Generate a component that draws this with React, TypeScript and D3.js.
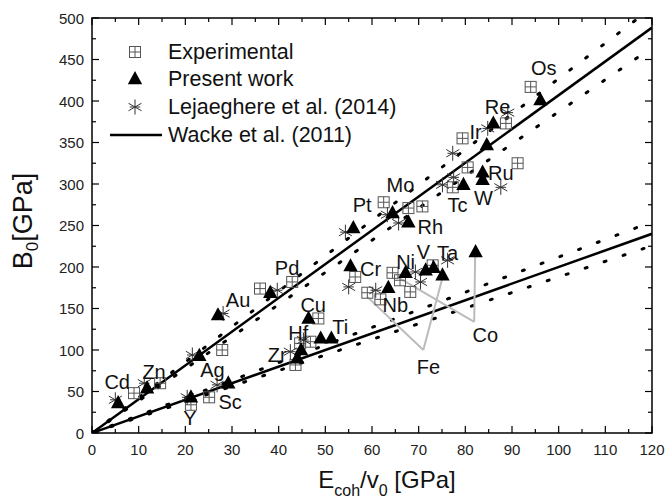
import React from 'react';
import * as d3 from 'd3';

// Experimental [E_coh/v0, B0]
const experimental: [number, number][] = [
  [9, 48], [14.6, 60], [21.2, 34], [25.1, 43], [27.9, 100], [36, 174], [42.9, 182],
  [43.6, 82], [44.6, 108], [46.8, 110], [48.5, 138], [56.4, 188], [59, 169], [61.8, 161],
  [64.4, 193], [66, 184], [68.2, 170], [73, 202], [62.5, 278], [67.8, 271], [70.8, 273],
  [77.3, 296], [80.5, 320], [91.2, 325], [79.4, 355], [88.7, 373], [94, 417],
];

// Present work
const present: [number, number][] = [
  [5.6, 36], [11.8, 54], [21.2, 43], [23, 93], [27, 142], [29.2, 60], [38.2, 169],
  [44, 90], [44.8, 100], [46.4, 138], [49, 114], [51.3, 114], [55.4, 201], [56, 247],
  [63.5, 175], [64.4, 265], [67.2, 193], [67.8, 254], [71.5, 196], [73.2, 199],
  [75.1, 190], [79.6, 299], [82.2, 218], [83.7, 305], [83.7, 314], [84.6, 347],
  [86, 373], [96.1, 401],
];

// Lejaeghere et al. (2014)
const lejaeghere: [number, number][] = [
  [5, 40], [11.2, 60], [20.4, 43], [21.5, 94], [26.8, 58], [28.1, 144], [39.7, 172],
  [42.5, 98], [45.3, 112], [55, 176], [60.8, 172], [69.3, 194], [70.4, 182], [76.2, 208],
  [54.3, 242], [63.3, 263], [65.7, 253], [75.1, 299], [77.5, 308], [77.3, 337],
  [84.8, 367], [89.1, 386], [87.6, 296],
];

// Wacke et al. (2011) fits: slope, lower band, upper band
const wackeFits = [
  { slope: 4.07, lo: 3.87, hi: 4.27 },
  { slope: 2.0, lo: 1.88, hi: 2.12 },
];

const elementLabels: { name: string; x: number; y: number }[] = [
  { name: 'Cd', x: 5.4, y: 61 }, { name: 'Zn', x: 13.3, y: 73 }, { name: 'Ag', x: 25.8, y: 76 },
  { name: 'Y', x: 21, y: 18 }, { name: 'Sc', x: 29.6, y: 37 }, { name: 'Au', x: 31.3, y: 160 },
  { name: 'Pd', x: 41.8, y: 199 }, { name: 'Cu', x: 47.4, y: 154 }, { name: 'Hf', x: 44.2, y: 120 },
  { name: 'Zr', x: 39.7, y: 94 }, { name: 'Ti', x: 53.2, y: 128 }, { name: 'Cr', x: 59.7, y: 198 },
  { name: 'Nb', x: 65, y: 154 }, { name: 'Ni', x: 67.2, y: 206 }, { name: 'V', x: 71, y: 218 },
  { name: 'Ta', x: 76.2, y: 217 }, { name: 'Co', x: 84.3, y: 118 }, { name: 'Fe', x: 72.1, y: 80 },
  { name: 'Pt', x: 57.9, y: 275 }, { name: 'Mo', x: 66.1, y: 299 }, { name: 'Rh', x: 72.5, y: 248 },
  { name: 'Tc', x: 78.3, y: 275 }, { name: 'W', x: 83.9, y: 283 }, { name: 'Ru', x: 87.6, y: 313 },
  { name: 'Ir', x: 82.2, y: 363 }, { name: 'Re', x: 86.9, y: 393 }, { name: 'Os', x: 96.8, y: 440 },
];

// grey pointer lines: apex -> targets
const pointers = [
  { apex: [71, 100], ends: [[59, 164], [75.1, 187]] },
  { apex: [81.9, 134], ends: [[82.1, 214], [65.4, 188]] },
];

const xTicks = d3.range(0, 121, 10);
const yTicks = d3.range(0, 501, 50);

const W = 668, H = 503;
const m = { left: 92, right: 652, top: 18, bottom: 433 };

const font = 'Arial, "Liberation Sans", sans-serif';

function Square({ x, y }: { x: number; y: number }) {
  const s = 5.5;
  return (
    <g stroke="#555" strokeWidth={1} fill="white" fillOpacity={0}>
      <rect x={x - s} y={y - s} width={2 * s} height={2 * s} />
      <line x1={x} x2={x} y1={y - s} y2={y + s} />
      <line x1={x - s} x2={x + s} y1={y} y2={y} />
    </g>
  );
}

function Tri({ x, y }: { x: number; y: number }) {
  const r = 8;
  return <path d={`M${x},${y - r}L${x + r * 0.9},${y + r * 0.65}L${x - r * 0.9},${y + r * 0.65}Z`} fill="#000" />;
}

function Star({ x, y }: { x: number; y: number }) {
  const r = 7.5;
  const angles = [90, 30, -30];
  return (
    <g stroke="#333" strokeWidth={1}>
      {angles.map((a) => {
        const dx = r * Math.cos((a * Math.PI) / 180), dy = r * Math.sin((a * Math.PI) / 180);
        return <line key={a} x1={x - dx} y1={y - dy} x2={x + dx} y2={y + dy} />;
      })}
      <line x1={x - r * 0.7} y1={y} x2={x + r * 0.7} y2={y} />
    </g>
  );
}

export default function App() {
  const x = d3.scaleLinear().domain([0, 120]).range([m.left, m.right]);
  const y = d3.scaleLinear().domain([0, 500]).range([m.bottom, m.top]);
  const fitLine = (k: number) => d3.line<number>().x((d) => x(d)).y((d) => y(k * d))([0, 120]) || '';
  const xMinor = d3.range(0, 121, 5);
  const yMinor = d3.range(0, 501, 25);

  return (
    <svg width={W} height={H} style={{ position: 'absolute', left: 0, top: 0, background: '#fff' }} fontFamily={font}>
      <defs>
        <clipPath id="plot">
          <rect x={m.left} y={m.top} width={m.right - m.left} height={m.bottom - m.top} />
        </clipPath>
      </defs>

      {/* fit lines */}
      <g clipPath="url(#plot)">
        {wackeFits.map((f, i) => (
          <g key={i} fill="none" stroke="#000">
            <path d={fitLine(f.slope)} strokeWidth={2.5} />
            <path d={fitLine(f.lo)} strokeWidth={3} strokeDasharray="2 18" strokeLinecap="round" />
            <path d={fitLine(f.hi)} strokeWidth={3} strokeDasharray="2 18" strokeLinecap="round" />
          </g>
        ))}
      </g>

      {/* pointers */}
      <g stroke="#bbb" strokeWidth={2} fill="none">
        {pointers.map((p, i) =>
          p.ends.map((e, j) => (
            <line key={`${i}-${j}`} x1={x(p.apex[0])} y1={y(p.apex[1])} x2={x(e[0])} y2={y(e[1])} />
          ))
        )}
      </g>

      {experimental.map((d, i) => <Square key={'e' + i} x={x(d[0])} y={y(d[1])} />)}
      {lejaeghere.map((d, i) => <Star key={'l' + i} x={x(d[0])} y={y(d[1])} />)}
      {present.map((d, i) => <Tri key={'p' + i} x={x(d[0])} y={y(d[1])} />)}

      {/* element labels */}
      <g fontSize={20} fill="#111" textAnchor="middle" dominantBaseline="central">
        {elementLabels.map((l) => (
          <text key={l.name} x={x(l.x)} y={y(l.y)}>{l.name}</text>
        ))}
      </g>

      {/* frame and ticks */}
      <rect x={m.left} y={m.top} width={m.right - m.left} height={m.bottom - m.top} fill="none" stroke="#000" strokeWidth={1.5} />
      <g stroke="#000" strokeWidth={1.2}>
        {xMinor.map((t) => {
          const len = t % 10 === 0 ? 7 : 4;
          return (
            <g key={'xt' + t}>
              <line x1={x(t)} x2={x(t)} y1={m.bottom} y2={m.bottom - len} />
              <line x1={x(t)} x2={x(t)} y1={m.top} y2={m.top + len} />
            </g>
          );
        })}
        {yMinor.map((t) => {
          const len = t % 50 === 0 ? 7 : 4;
          return (
            <g key={'yt' + t}>
              <line x1={m.left} x2={m.left + len} y1={y(t)} y2={y(t)} />
              <line x1={m.right} x2={m.right - len} y1={y(t)} y2={y(t)} />
            </g>
          );
        })}
      </g>
      <g fontSize={15} fill="#222">
        {xTicks.map((t) => (
          <text key={'xl' + t} x={x(t)} y={m.bottom + 22} textAnchor="middle">{t}</text>
        ))}
        {yTicks.map((t) => (
          <text key={'yl' + t} x={m.left - 8} y={y(t)} textAnchor="end" dominantBaseline="central">{t}</text>
        ))}
      </g>

      {/* axis titles */}
      <text transform="translate(32,221) rotate(-90)" textAnchor="middle" fontSize={27} fill="#111">
        B<tspan fontSize={17} dy={6}>0</tspan><tspan dy={-6}>[GPa]</tspan>
      </text>
      <text x={387} y={488} textAnchor="middle" fontSize={24} fill="#111">
        E<tspan fontSize={16} dy={8}>coh</tspan><tspan dy={-8}>/v</tspan><tspan fontSize={16} dy={8}>0</tspan><tspan dy={-8}> [GPa]</tspan>
      </text>

      {/* legend */}
      <g fontSize={21.5} fill="#111">
        <Square x={135} y={52} />
        <text x={168} y={52} dominantBaseline="central">Experimental</text>
        <Tri x={135} y={79} />
        <text x={168} y={79} dominantBaseline="central">Present work</text>
        <Star x={135} y={107} />
        <text x={168} y={107} dominantBaseline="central">Lejaeghere et al. (2014)</text>
        <line x1={110} x2={162} y1={135} y2={135} stroke="#000" strokeWidth={2.5} />
        <text x={168} y={135} dominantBaseline="central">Wacke et al. (2011)</text>
      </g>
    </svg>
  );
}
